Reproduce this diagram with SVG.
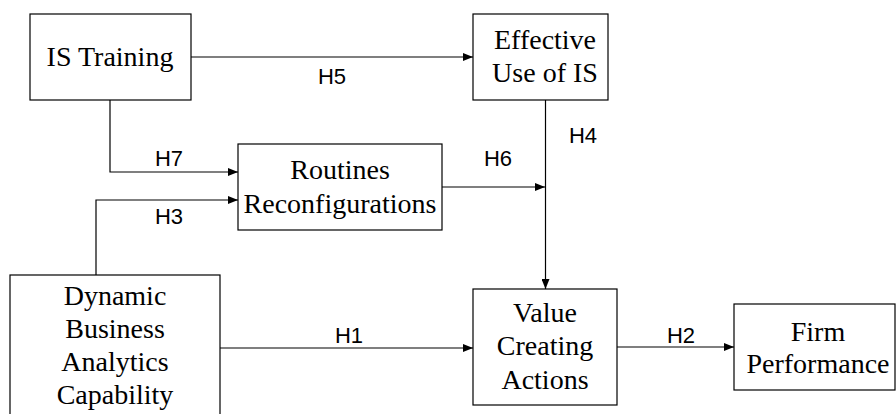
<svg xmlns="http://www.w3.org/2000/svg" width="896" height="414" viewBox="0 0 896 414">
<style>
.box{fill:#fff;stroke:#000;stroke-width:1.2}
.t{font-family:"Liberation Serif","Times New Roman",serif;font-size:28px;fill:#000;text-anchor:middle}
.h{font-family:"Liberation Sans",Arial,sans-serif;font-size:22px;fill:#000;text-anchor:middle}
.c{fill:none;stroke:#000;stroke-width:1.2;marker-end:url(#ah)}
</style>
<defs>
<marker id="ah" viewBox="0 0 10 8" refX="10" refY="4" markerWidth="10" markerHeight="8" markerUnits="userSpaceOnUse" orient="auto">
<path d="M0,0 L10,4 L0,8 Z" fill="#000"/>
</marker>
</defs>
<g id="connectors">
<path class="c" d="M191,57 H473"/>
<path class="c" d="M110,100 V172 H238"/>
<path class="c" d="M96,275 V200 H238"/>
<path class="c" d="M220,348 H473"/>
<path class="c" d="M545.5,100 V289"/>
<path class="c" d="M442,187 H545"/>
<path class="c" d="M617,347 H734"/>
</g>
<g id="labels">
<text class="h" x="332" y="84">H5</text>
<text class="h" x="169" y="166">H7</text>
<text class="h" x="169" y="224">H3</text>
<text class="h" x="498" y="166">H6</text>
<text class="h" x="583" y="143">H4</text>
<text class="h" x="349" y="343">H1</text>
<text class="h" x="681" y="343">H2</text>
</g>
<g id="is-training">
<rect class="box" x="30" y="14" width="161" height="86"/>
<text class="t" x="110" y="66">IS Training</text>
</g>
<g id="effective-use">
<rect class="box" x="473" y="14" width="135" height="86"/>
<text class="t" x="545" y="49">Effective</text>
<text class="t" x="545" y="82">Use of IS</text>
</g>
<g id="routines">
<rect class="box" x="238" y="144" width="204" height="86"/>
<text class="t" x="340" y="179">Routines</text>
<text class="t" x="340" y="213">Reconfigurations</text>
</g>
<g id="dbac">
<rect class="box" x="10" y="275" width="210" height="150"/>
<text class="t" x="115" y="305">Dynamic</text>
<text class="t" x="115" y="338">Business</text>
<text class="t" x="115" y="371">Analytics</text>
<text class="t" x="115" y="404">Capability</text>
</g>
<g id="value-creating">
<rect class="box" x="473" y="289" width="144" height="116"/>
<text class="t" x="545" y="322">Value</text>
<text class="t" x="545" y="355">Creating</text>
<text class="t" x="545" y="389">Actions</text>
</g>
<g id="firm-performance">
<rect class="box" x="734" y="304" width="161" height="86"/>
<text class="t" x="818" y="341">Firm</text>
<text class="t" x="818" y="373">Performance</text>
</g>
</svg>
